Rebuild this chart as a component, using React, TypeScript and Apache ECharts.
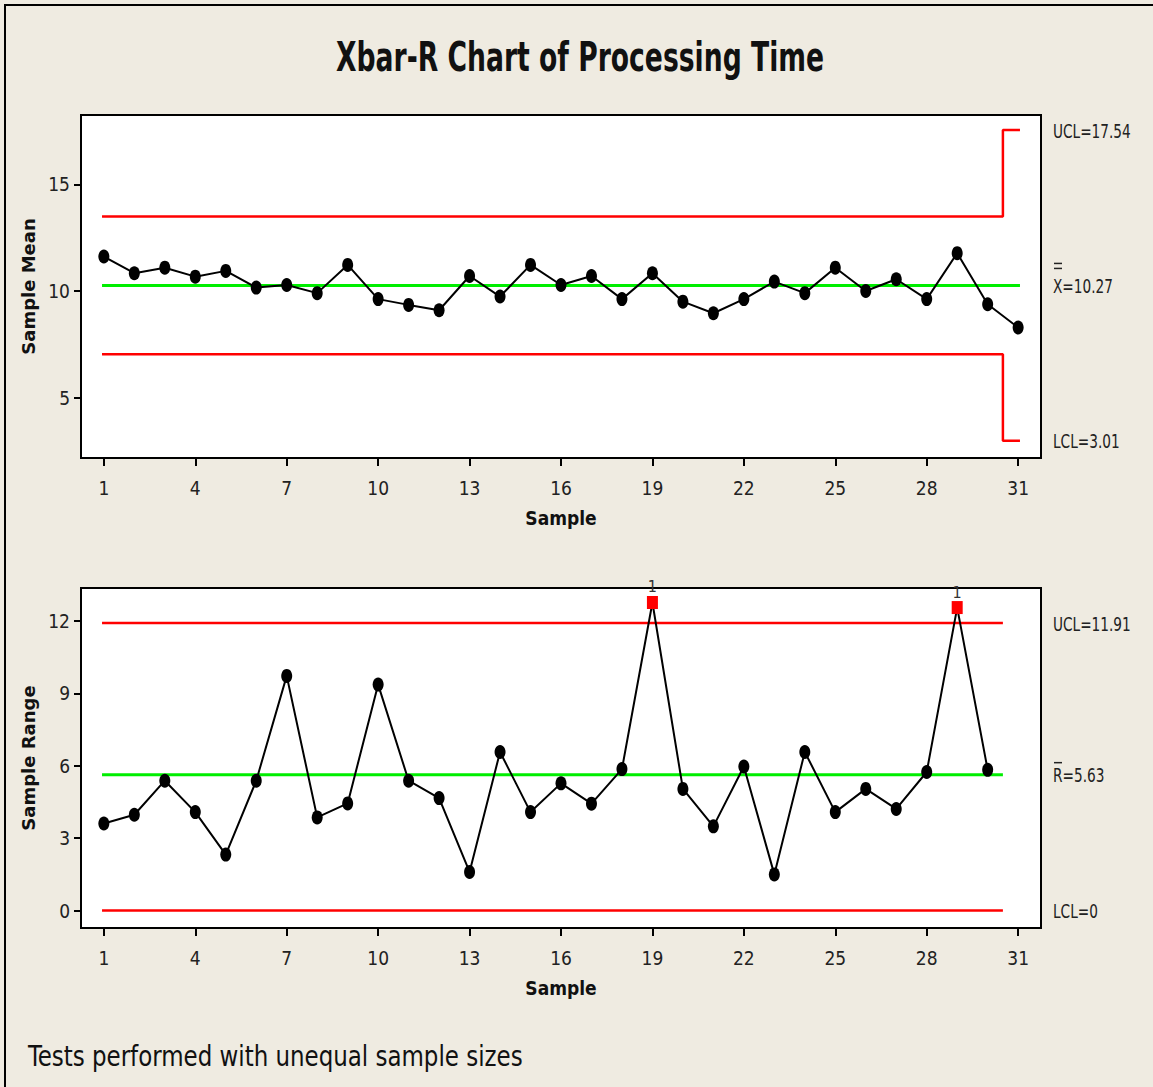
import React, { useEffect, useRef } from "react";
import * as echarts from "echarts";

// ---------- data ----------
const samples = [1, 2, 3, 4, 5, 6, 7, 8, 9, 10, 11, 12, 13, 14, 15, 16, 17, 18, 19, 20, 21, 22, 23, 24, 25, 26, 27, 28, 29, 30, 31];
const xbarValues = [11.62, 10.84, 11.1, 10.68, 10.95, 10.17, 10.29, 9.91, 11.23, 9.63, 9.36, 9.11, 10.71, 9.75, 11.23, 10.29, 10.71, 9.63, 10.84, 9.51, 8.97, 9.63, 10.45, 9.91, 11.1, 10.01, 10.56, 9.63, 11.78, 9.39, 8.3];
const rangeValues = [3.61, 3.97, 5.38, 4.08, 2.32, 5.38, 9.72, 3.86, 4.44, 9.36, 5.38, 4.66, 1.6, 6.57, 4.08, 5.27, 4.43, 5.86, 12.76, 5.04, 3.49, 5.97, 1.5, 6.57, 4.08, 5.04, 4.21, 5.74, 12.55, 5.83];
const outOfControl = [19, 29];
const sampleTicks = [1, 4, 7, 10, 13, 16, 19, 22, 25, 28, 31];
const meanTicks = [5, 10, 15];
const rangeTicks = [0, 3, 6, 9, 12];
// control limit segments: [fromSample, toSample, value]
const xbarUclSegments = [[1, 30, 13.49], [31, 31, 17.54]];
const xbarClSegments = [[1, 31, 10.27]];
const xbarLclSegments = [[1, 30, 7.05], [31, 31, 3.01]];
const rangeUclSegments = [[1, 30, 11.91]];
const rangeClSegments = [[1, 30, 5.63]];
const rangeLclSegments = [[1, 30, 0]];
const xbarLimitLabels = [
  { value: 17.54, text: "UCL=17.54", mark: "" },
  { value: 10.27, text: "X=10.27", mark: "dbl" },
  { value: 3.01, text: "LCL=3.01", mark: "" },
];
const rangeLimitLabels = [
  { value: 11.91, text: "UCL=11.91", mark: "" },
  { value: 5.63, text: "R=5.63", mark: "bar" },
  { value: 0, text: "LCL=0", mark: "" },
];
const titleText = "Xbar-R Chart of Processing Time";
const footnoteText = "Tests performed with unequal sample sizes";

const NARROW = "'Liberation Sans Narrow','Arial Narrow','DejaVu Sans Condensed','Roboto Condensed',sans-serif";
const BG = "#EFEBE1";

function stepLine(segs: number[][], startExt: number, endExt: number) {
  const pts: number[][] = [];
  segs.forEach((s, i) => {
    const x0 = i === 0 ? s[0] - startExt : s[0] - 0.5;
    const x1 = i === segs.length - 1 ? s[1] + endExt : s[1] + 0.5;
    pts.push([x0, s[2]]);
    pts.push([x1, s[2]]);
  });
  return pts;
}

function limitSeries(name: string, gi: number, pts: number[][], color: string, width: number) {
  return {
    name,
    type: "line",
    xAxisIndex: gi,
    yAxisIndex: gi,
    data: pts,
    showSymbol: false,
    symbol: "none",
    silent: true,
    z: 1,
    lineStyle: { color, width },
  };
}

function xAxis(gi: number) {
  return {
    type: "value",
    gridIndex: gi,
    min: 0.25,
    max: 31.75,
    name: "Sample",
    nameLocation: "middle",
    nameGap: 50,
    nameTextStyle: { fontFamily: NARROW, fontWeight: "bold", fontSize: 19, color: "#111" },
    axisLine: { show: true, onZero: false, lineStyle: { color: "#000", width: 2 } },
    axisTick: { show: true, length: 8, lineStyle: { color: "#000", width: 2 }, customValues: sampleTicks },
    axisLabel: { fontFamily: NARROW, fontSize: 19, color: "#222", margin: 20, customValues: sampleTicks },
    splitLine: { show: false },
  };
}

function yAxis(gi: number, min: number, max: number, ticks: number[], name: string) {
  return {
    type: "value",
    gridIndex: gi,
    min,
    max,
    name,
    nameLocation: "middle",
    nameGap: 42,
    nameRotate: 90,
    nameTextStyle: { fontFamily: "'DejaVu Sans',sans-serif", fontWeight: "bold", fontSize: 18, color: "#111" },
    axisLine: { show: true, onZero: false, lineStyle: { color: "#000", width: 2 } },
    axisTick: { show: true, length: 7, lineStyle: { color: "#000", width: 2 }, customValues: ticks },
    axisLabel: { fontFamily: NARROW, fontSize: 19, color: "#222", margin: 11, customValues: ticks },
    splitLine: { show: false },
  };
}

export default function App() {
  const ref = useRef<HTMLDivElement>(null);
  useEffect(() => {
    document.body.style.margin = "0";
    const chart = echarts.init(ref.current!, null, { renderer: "svg" });
    const option: any = {
      animation: false,
      backgroundColor: BG,
      grid: [
        { left: 81, top: 115, width: 960, height: 343, show: true, backgroundColor: "#fff", borderColor: "#000", borderWidth: 2 },
        { left: 81, top: 588, width: 960, height: 340, show: true, backgroundColor: "#fff", borderColor: "#000", borderWidth: 2 },
      ],
      xAxis: [xAxis(0), xAxis(1)],
      yAxis: [
        yAxis(0, 2.2, 18.24, meanTicks, "Sample Mean"),
        yAxis(1, -0.72, 13.36, rangeTicks, "Sample Range"),
      ],
      series: [
        limitSeries("UCL", 0, stepLine(xbarUclSegments, 0.06, 0.06), "#FF0000", 2.5),
        limitSeries("LCL", 0, stepLine(xbarLclSegments, 0.06, 0.06), "#FF0000", 2.5),
        limitSeries("CL", 0, stepLine(xbarClSegments, 0.06, 0.06), "#00EE00", 3),
        limitSeries("UCL R", 1, stepLine(rangeUclSegments, 0.06, 0.5), "#FF0000", 2.5),
        limitSeries("LCL R", 1, stepLine(rangeLclSegments, 0.06, 0.5), "#FF0000", 2.5),
        limitSeries("CL R", 1, stepLine(rangeClSegments, 0.06, 0.5), "#00EE00", 3),
        {
          name: "Sample Mean",
          type: "line",
          xAxisIndex: 0,
          yAxisIndex: 0,
          data: xbarValues.map((v, i) => [samples[i], v]),
          symbol: "circle",
          symbolSize: [11, 14],
          itemStyle: { color: "#000" },
          lineStyle: { color: "#000", width: 2 },
          z: 5,
        },
        {
          name: "Sample Range",
          type: "line",
          xAxisIndex: 1,
          yAxisIndex: 1,
          data: rangeValues.map((v, i) => {
            const s = samples[i];
            if (outOfControl.includes(s)) {
              return {
                value: [s, v],
                symbol: "rect",
                symbolSize: [11, 13],
                itemStyle: { color: "#FF0000" },
                label: { show: true, position: "top", distance: 1, formatter: "1", fontSize: 16, color: "#333", fontFamily: NARROW },
              };
            }
            return { value: [s, v] };
          }),
          symbol: "circle",
          symbolSize: [11, 14],
          itemStyle: { color: "#000" },
          lineStyle: { color: "#000", width: 2 },
          z: 5,
        },
      ],
    };
    chart.setOption(option);

    const graphic: any[] = [
      { type: "rect", shape: { x: 5, y: 5, width: 1300, height: 1300 }, style: { fill: "none", stroke: "#000", lineWidth: 2 }, silent: true },
      {
        type: "text",
        x: 580,
        y: 57,
        scaleX: 0.74,
        style: { text: titleText, fontFamily: NARROW, fontWeight: "bold", fontSize: 40, fill: "#111", align: "center", verticalAlign: "middle" },
      },
      {
        type: "text",
        x: 28,
        y: 1056,
        scaleX: 0.88,
        style: { text: footnoteText, fontFamily: NARROW, fontSize: 29, fill: "#111", verticalAlign: "middle" },
      },
    ];
    const addLabels = (gi: number, labels: any[]) => {
      labels.forEach((l) => {
        const p = chart.convertToPixel({ gridIndex: gi } as any, [31.75, l.value]) as number[];
        const x = p[0] + 12;
        graphic.push({
          type: "text",
          x,
          y: p[1] + 1,
          scaleX: 0.8,
          style: { text: l.text, fontFamily: NARROW, fontSize: 19, fill: "#222", verticalAlign: "middle" },
        });
        if (l.mark === "dbl") {
          graphic.push({ type: "line", shape: { x1: x + 1, y1: p[1] - 22, x2: x + 9, y2: p[1] - 22 }, style: { stroke: "#222", lineWidth: 1.5 } });
          graphic.push({ type: "line", shape: { x1: x + 1, y1: p[1] - 17, x2: x + 9, y2: p[1] - 17 }, style: { stroke: "#222", lineWidth: 1.5 } });
        }
        if (l.mark === "bar") {
          graphic.push({ type: "line", shape: { x1: x + 1, y1: p[1] - 12, x2: x + 9, y2: p[1] - 12 }, style: { stroke: "#222", lineWidth: 1.5 } });
        }
      });
    };
    addLabels(0, xbarLimitLabels);
    addLabels(1, rangeLimitLabels);
    chart.setOption({ graphic });

    return () => chart.dispose();
  }, []);
  return <div ref={ref} style={{ width: 1153, height: 1087 }} />;
}
